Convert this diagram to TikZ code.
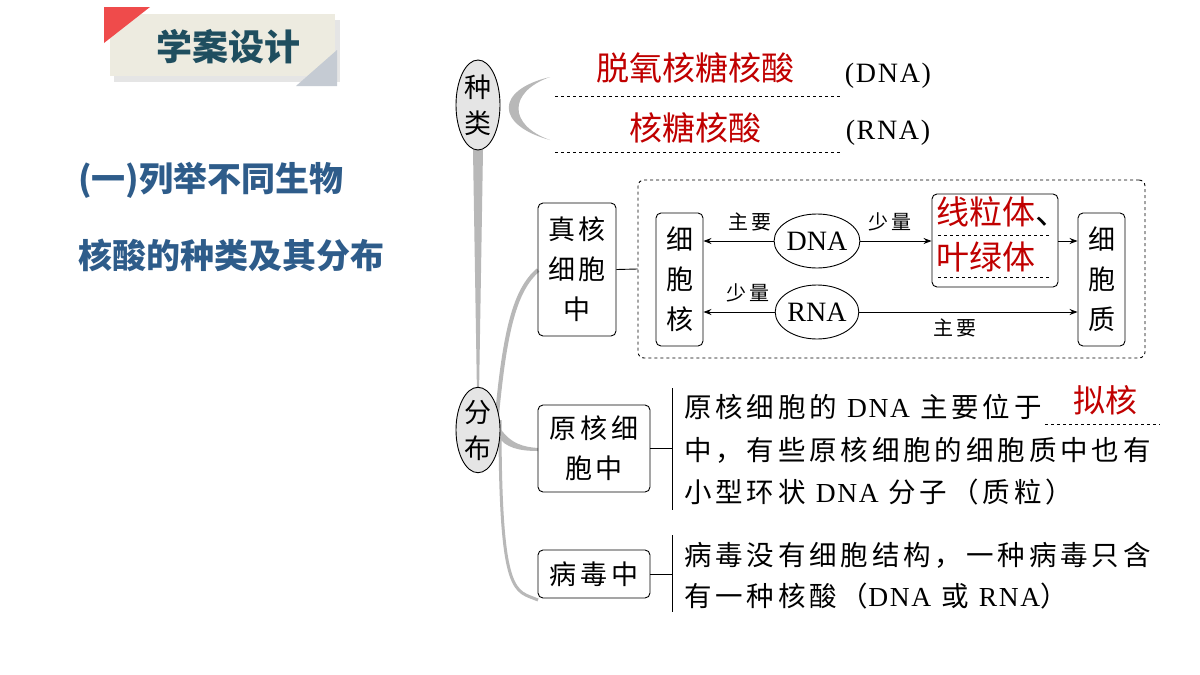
\documentclass[tikz,border=0pt]{standalone}
\usepackage{fontspec}
\setmainfont{Liberation Serif}
\newfontfamily\cjk{Noto Sans CJK SC}
\newfontfamily\cjkw[LetterSpace=14]{Noto Sans CJK SC}
\newfontfamily\lat{Liberation Serif}
\newfontfamily\latw[LetterSpace=6]{Liberation Serif}
\usetikzlibrary{shapes.geometric,arrows.meta}
\definecolor{ttl}{HTML}{1F4E5F}
\definecolor{lblue}{HTML}{2E5C8A}
\definecolor{dred}{HTML}{C00000}
\definecolor{stem}{HTML}{B8B8B8}
\definecolor{ttlbg}{HTML}{EDEBE0}
\definecolor{tred}{HTML}{EF4B4B}
\definecolor{tgrey}{HTML}{C5CBD3}
\begin{document}
\begin{tikzpicture}[x=1pt,y=-1pt,
  base/.style={font=\cjk\fontsize{24}{34}\selectfont,inner sep=0pt},
  box/.style={draw,rounded corners=5pt,line width=0.9pt,align=center,font=\cjkw\fontsize{27}{40}\selectfont,inner sep=0pt},
  ell/.style={draw,ellipse,line width=0.9pt,inner sep=0pt},
  lab/.style={font=\cjkw\fontsize{20}{20}\selectfont,inner sep=0pt},
  arr/.style={line width=0.9pt,-{Stealth[length=8pt,width=6pt]}},
  red/.style={base,text=dred,font=\cjk\fontsize{33}{36}\selectfont},
  body/.style={base,anchor=west,font=\cjkw\fontsize{27.5}{30}\selectfont},
  blue/.style={base,anchor=west,text=lblue,font=\cjk\bfseries\fontsize{34}{36}\selectfont}]
\useasboundingbox (0,0) rectangle (1200,675);
\fill[white] (0,0) rectangle (1200,675);
% title
\fill[black!20,opacity=0.5] (114,20) rectangle (340,82);
\fill[ttlbg] (110,14) rectangle (335,76);
\fill[tred] (104,7) -- (150,7) -- (104,43) -- cycle;
\fill[tgrey] (337,50) -- (337,86) -- (296,86) -- cycle;
\node[base,text=ttl,font=\cjk\bfseries\fontsize{36}{38}\selectfont] (ttl) at (228,47) {学案设计};
% left text
\node[blue] (l1) at (78,180) {(一)列举不同生物};
\node[blue] (l2) at (78,255) {核酸的种类及其分布};
% stems
\fill[stem] (473,150) -- (483,150) -- (479,395) -- (477,395) -- cycle;
\fill[stem] (550,77) .. controls (495,90) and (495,125) .. (550,140) .. controls (508,125) and (508,92) .. cycle;
\draw[stem,line width=4pt] (497,415) .. controls (505,330) and (515,290) .. (538,270);
\draw[stem,line width=3pt] (500,420) .. controls (500,600) and (515,590) .. (538,600);
\fill[stem] (498,425) .. controls (510,445) and (525,447) .. (538,448) -- (538,451) .. controls (520,451) and (505,448) .. (498,436) -- cycle;
% kinds
\node[ell,fill=black!10,minimum width=44pt,minimum height=90pt,align=center,font=\cjk\fontsize{27}{36}\selectfont] (zl) at (478,105) {种\\类};
\node[ell,fill=black!10,minimum width=44pt,minimum height=80pt,align=center,font=\cjk\fontsize{27}{36}\selectfont] (fb) at (478,430) {分\\布};
\coordinate (d1a) at (555,96); \coordinate (d1b) at (840,96);
\coordinate (d2a) at (555,152); \coordinate (d2b) at (840,152);
\draw[dashed,line width=0.8pt] (d1a) -- (d1b);
\draw[dashed,line width=0.8pt] (d2a) -- (d2b);
\node[red] (dna1) at (695,68) {脱氧核糖核酸};
\node[red] (rna1) at (695,128) {核糖核酸};
\node[base,font=\latw\fontsize{28}{30}\selectfont] (p1) at (888,76) {(DNA)};
\node[base,font=\latw\fontsize{28}{30}\selectfont] (p2) at (888,133) {(RNA)};
% eukaryote
\node[box,minimum width=78pt,minimum height=133pt] (zh) at (577,269.5) {真核\\细胞\\中};
\node[draw,dashed,rounded corners=6pt,line width=0.9pt,minimum width=507pt,minimum height=178pt,inner sep=0pt] (dbox) at (891.5,269) {};
\draw[line width=0.9pt] (zh.east) -- (dbox.west);
\node[box,minimum width=47pt,minimum height=133pt] (xbh) at (679.5,279.5) {细\\胞\\核};
\node[box,minimum width=47pt,minimum height=133pt] (xbz) at (1101.5,279.5) {细\\胞\\质};
\node[ell,minimum width=80pt,minimum height=54pt,font=\lat\fontsize{28}{30}\selectfont] (dna) at (817,241) {DNA};
\node[ell,minimum width=80pt,minimum height=54pt,font=\lat\fontsize{28}{30}\selectfont] (rna) at (817,312) {RNA};
\node[draw,rounded corners=5pt,line width=0.9pt,minimum width=126pt,minimum height=93pt,inner sep=0pt] (xl) at (995,240.5) {};
\node[red,anchor=west,font=\cjk\fontsize{33}{36}\selectfont] (xlt) at (936,212) {线粒体\textcolor{black}{、}};
\node[red,anchor=west,font=\cjk\fontsize{33}{36}\selectfont] (ylt) at (936,257) {叶绿体};
\coordinate (x1a) at (938,235); \coordinate (x1b) at (1050,235);
\coordinate (x2a) at (938,277); \coordinate (x2b) at (1050,277);
\draw[dashed,line width=0.8pt] (x1a) -- (x1b);
\draw[dashed,line width=0.8pt] (x2a) -- (x2b);
\draw[arr] (dna.west) -- (xbh.east |- dna.west);
\draw[arr] (rna.west) -- (xbh.east |- rna.west);
\draw[arr] (dna.east) -- (xl.west |- dna.east);
\draw[arr] (xl.east |- dna.east) -- (xbz.west |- dna.east);
\draw[arr] (rna.east) -- (xbz.west |- rna.east);
\node[lab] (m1) at (750,222) {主要};
\node[lab] (s1) at (748,293) {少量};
\node[lab] (s2) at (890,222) {少量};
\node[lab] (m2) at (955,328) {主要};
% prokaryote
\node[box,minimum width=112pt,minimum height=87pt] (yh) at (594,448.5) {原核细\\胞中};
\coordinate (v1a) at (672,388); \coordinate (v1b) at (672,510);
\draw[line width=0.9pt] (v1a) -- (v1b);
\draw[line width=0.9pt] (yh.east) -- (v1a |- yh.east);
\node[body] (t1) at (684,407) {原核细胞的 {\latw DNA} 主要位于};
\coordinate (u1) at (1045,424); \coordinate (u2) at (1160,424);
\draw[dashed,line width=0.8pt] (u1) -- (u2);
\node[red,font=\cjk\fontsize{32}{36}\selectfont] (nh) at (1105,400) {拟核};
\node[body] (t2) at (684,450) {中，有些原核细胞的细胞质中也有};
\node[body] (t3) at (684,492) {小型环状 {\latw DNA} 分子（质粒）};
% virus
\node[box,minimum width=112pt,minimum height=48pt] (bd) at (594,574) {病毒中};
\coordinate (v2a) at (672,535); \coordinate (v2b) at (672,612);
\draw[line width=0.9pt] (v2a) -- (v2b);
\draw[line width=0.9pt] (bd.east) -- (v2a |- bd.east);
\node[body] (t4) at (684,555) {病毒没有细胞结构，一种病毒只含};
\node[body] (t5) at (684,596) {有一种核酸（{\latw DNA} 或 {\latw RNA}）};
\end{tikzpicture}
\end{document}
